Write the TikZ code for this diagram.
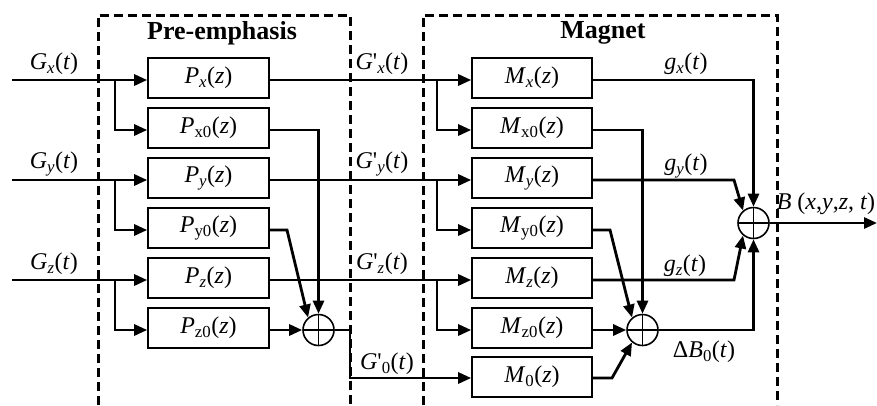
\documentclass[tikz,border=0pt]{standalone}
\usepackage{fontspec}
\setmainfont{Liberation Serif}
\usetikzlibrary{arrows.meta}

\newcommand\iv[1]{\textit{#1}}
\newcommand\lo[1]{\textsubscript{#1}}
\newcommand\pr{\textquotesingle}

\begin{document}
\begin{tikzpicture}[x=1pt,y=-1pt,
  wire/.style={line width=2.8pt},
  arr/.style={wire,-{Triangle[length=13pt,width=11pt]}},
  blk/.style={draw,line width=1.6pt,minimum width=121pt,minimum height=40pt,
    inner sep=0pt,font=\fontsize{24}{27}\selectfont},
  sum/.style={draw,circle,line width=1.6pt,minimum size=31pt,inner sep=0pt,
    path picture={\draw[line width=1.1pt]
      (path picture bounding box.north) -- (path picture bounding box.south)
      (path picture bounding box.west) -- (path picture bounding box.east);}},
  frame/.style={line width=3pt,dash pattern=on 9pt off 5pt},
  lbl/.style={font=\fontsize{24}{27}\selectfont,inner sep=0pt},
  ttl/.style={font=\fontsize{26}{29}\selectfont\bfseries,inner sep=0pt}]

\useasboundingbox (0,0) rectangle (877,405);

% dashed frames, open at the bottom
\draw[frame] (98,405) -- (98,15) -- (350,15) -- (350,405);
\draw[frame] (423,405) -- (423,15) -- (777,15) -- (777,405);
\node[ttl] (tpre) at (222,33) {Pre-emphasis};
\node[ttl] (tmag) at (603,33) {Magnet};

% pre-emphasis filters
\node[blk] (px)  at (208.5,78)  {\iv{P}\lo{\iv{x}}(\iv{z})};
\node[blk] (px0) at (208.5,128) {\iv{P}\lo{x0}(\iv{z})};
\node[blk] (py)  at (208.5,178) {\iv{P}\lo{\iv{y}}(\iv{z})};
\node[blk] (py0) at (208.5,228) {\iv{P}\lo{y0}(\iv{z})};
\node[blk] (pz)  at (208.5,278) {\iv{P}\lo{\iv{z}}(\iv{z})};
\node[blk] (pz0) at (208.5,328) {\iv{P}\lo{z0}(\iv{z})};
\node[sum] (s1) at (318.5,330) {};

% magnet responses
\node[blk,minimum width=120pt] (mx)  at (532,78)  {\iv{M}\lo{\iv{x}}(\iv{z})};
\node[blk,minimum width=120pt] (mx0) at (532,128) {\iv{M}\lo{x0}(\iv{z})};
\node[blk,minimum width=120pt] (my)  at (532,178) {\iv{M}\lo{\iv{y}}(\iv{z})};
\node[blk,minimum width=120pt] (my0) at (532,228) {\iv{M}\lo{y0}(\iv{z})};
\node[blk,minimum width=120pt] (mz)  at (532,278) {\iv{M}\lo{\iv{z}}(\iv{z})};
\node[blk,minimum width=120pt] (mz0) at (532,328) {\iv{M}\lo{z0}(\iv{z})};
\node[blk,minimum width=120pt] (m0)  at (532,377) {\iv{M}\lo{0}(\iv{z})};
\node[sum] (s2) at (642.5,330) {};
\node[sum] (s3) at (753.5,223) {};

% inputs and output end
\coordinate (gxin) at (12,80);
\coordinate (gyin) at (12,180);
\coordinate (gzin) at (12,280);
\coordinate (bout) at (877,223);

\draw[arr] (gxin) -- (px.west |- gxin);
\draw[arr] (115,80) |- (px0.west |- 0,130);
\draw[arr] (gyin) -- (py.west |- gyin);
\draw[arr] (115,180) |- (py0.west |- 0,230);
\draw[arr] (gzin) -- (pz.west |- gzin);
\draw[arr] (115,280) |- (pz0.west |- s1);

% pre-emphasis outputs
\draw[arr] (px.east |- gxin) -- (mx.west |- gxin);
\draw[arr] (437,80) |- (mx0.west |- 0,130);
\draw[arr] (py.east |- gyin) -- (my.west |- gyin);
\draw[arr] (437,180) |- (my0.west |- 0,230);
\draw[arr] (pz.east |- gzin) -- (mz.west |- gzin);
\draw[arr] (437,280) |- (mz0.west |- s2);

\draw[arr] (px0.east |- 0,130) -| (s1.north);
\draw[arr] (py0.east |- 0,230) -- (287,230) -- (s1.130);
\draw[arr] (pz0.east |- s1) -- (s1.west);
\draw[arr] (s1.east) -- (350,330) |- (m0.west |- 0,378);

% magnet outputs
\draw[arr] (mx.east |- gxin) -| (s3.north);
\draw[arr] (my.east |- gyin) -- (734,180) -- (s3.130);
\draw[arr] (mz.east |- gzin) -- (734,280) -- (s3.230);
\draw[arr] (mx0.east |- 0,130) -| (s2.north);
\draw[arr] (my0.east |- 0,230) -- (610,230) -- (s2.130);
\draw[arr] (mz0.east |- s2) -- (s2.west);
\draw[arr] (m0.east |- 0,378) -- (612,378) -- (s2.230);
\draw[arr] (s2.east) -| (s3.south);
\draw[arr] (s3.east) -- (bout);

% signal labels
\node[lbl] (lgx) at (54,64)  {\iv{G}\lo{\iv{x}}(\iv{t})};
\node[lbl] (lgy) at (54,164) {\iv{G}\lo{\iv{y}}(\iv{t})};
\node[lbl] (lgz) at (54,264) {\iv{G}\lo{\iv{z}}(\iv{t})};
\node[lbl] (lpx) at (382,64)  {\iv{G}\pr\lo{\iv{x}}(\iv{t})};
\node[lbl] (lpy) at (382,164) {\iv{G}\pr\lo{\iv{y}}(\iv{t})};
\node[lbl] (lpz) at (382,264) {\iv{G}\pr\lo{\iv{z}}(\iv{t})};
\node[lbl] (lp0) at (387,364) {\iv{G}\pr\lo{0}(\iv{t})};
\node[lbl] (lmx) at (686,64)  {\iv{g}\lo{\iv{x}}(\iv{t})};
\node[lbl] (lmy) at (686,166) {\iv{g}\lo{\iv{y}}(\iv{t})};
\node[lbl] (lmz) at (685,266) {\iv{g}\lo{\iv{z}}(\iv{t})};
\node[lbl] (ldb) at (704,352) {Δ\iv{B}\lo{0}(\iv{t})};
\node[lbl] (lb)  at (826,204) {\iv{B} (\iv{x},\iv{y},\iv{z}, \iv{t})};
\end{tikzpicture}
\end{document}
